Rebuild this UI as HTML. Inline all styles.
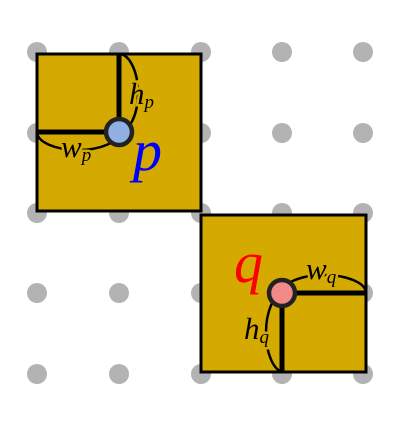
<!DOCTYPE html>
<html><head><meta charset="utf-8"><style>
html,body{margin:0;padding:0;background:#fff;}
svg{display:block;}
text{font-family:"Liberation Serif",serif;font-style:italic;}
</style></head><body>
<svg width="401" height="427" viewBox="0 0 401 427">
<g id="dots"></g>
<g>
<rect x="37" y="54" width="164" height="157" fill="#d4aa00" stroke="#000" stroke-width="3"/>
<line x1="119" y1="54" x2="119" y2="132" stroke="#000" stroke-width="5"/>
<line x1="37" y1="132" x2="119" y2="132" stroke="#000" stroke-width="5"/>
<path d="M119 54 A19 39 0 0 1 119 132" fill="none" stroke="#000" stroke-width="2.5"/>
<path d="M37 132 A41 18 0 0 0 119 132" fill="none" stroke="#000" stroke-width="2.5"/>
<circle cx="119" cy="132" r="13" fill="#8fb0e0" stroke="#222" stroke-width="4.5"/>
<text x="129" y="104" font-size="31" fill="#000" stroke="#d4aa00" stroke-width="5" paint-order="stroke">h<tspan font-size="19" dy="4">p</tspan></text>
<text x="61" y="157" font-size="31" fill="#000" stroke="#d4aa00" stroke-width="5" paint-order="stroke">w<tspan font-size="19" dy="4">p</tspan></text>
<text x="133" y="170" font-size="58" fill="#0000ff">p</text>
</g>
<g>
<rect x="201" y="215" width="165" height="157" fill="#d4aa00" stroke="#000" stroke-width="3"/>
<line x1="282" y1="293" x2="366" y2="293" stroke="#000" stroke-width="5"/>
<line x1="282" y1="293" x2="282" y2="372" stroke="#000" stroke-width="5"/>
<path d="M282 293 A42 18 0 0 1 366 293" fill="none" stroke="#000" stroke-width="2.5"/>
<path d="M282 293 A19 40 0 0 0 282 372" fill="none" stroke="#000" stroke-width="2.5"/>
<circle cx="282" cy="293" r="13" fill="#f28a8a" stroke="#222" stroke-width="4.5"/>
<text x="306" y="279" font-size="31" fill="#000" stroke="#d4aa00" stroke-width="5" paint-order="stroke">w<tspan font-size="19" dy="4">q</tspan></text>
<text x="244" y="339" font-size="31" fill="#000" stroke="#d4aa00" stroke-width="5" paint-order="stroke">h<tspan font-size="19" dy="4">q</tspan></text>
<text x="234" y="282" font-size="58" fill="#ff0000">q</text>
</g>
</svg>
<script>
const gridXs=[37,119,201,282,363];
const gridYs=[52,133,213,293,374];
const g=document.getElementById('dots');
for(const y of gridYs){for(const x of gridXs){
const c=document.createElementNS('http://www.w3.org/2000/svg','circle');
c.setAttribute('cx',x);c.setAttribute('cy',y);c.setAttribute('r',10);c.setAttribute('fill','#b3b3b3');


g.appendChild(c);}}
</script>
</body></html>
